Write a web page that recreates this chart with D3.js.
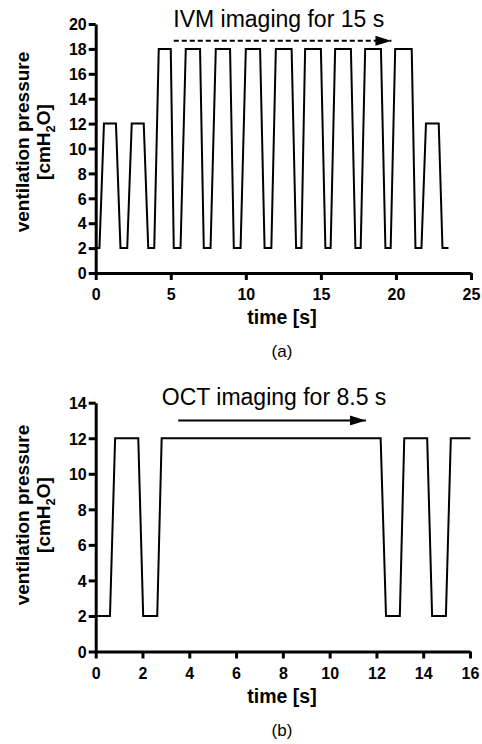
<!DOCTYPE html>
<html>
<head>
<meta charset="utf-8">
<script src="https://cdn.jsdelivr.net/npm/d3@7"></script>
<style>
  body { margin: 0; background: #fff; }
  svg { display: block; font-family: "Liberation Sans", Arial, sans-serif; }
</style>
</head>
<body>
<div id="chart"></div>
<script>
// Panel (a): IVM ventilation pattern
const timeA = [0.1, 0.25, 0.55, 1.35, 1.65, 2.1, 2.4, 3.2, 3.5, 3.9,
  4.2, 5.0, 5.2, 5.65, 6.0, 6.95, 7.2, 7.65, 8.0, 8.95, 9.2, 9.65,
  10.0, 10.95, 11.25, 11.7, 12.0, 13.05, 13.35, 13.7, 13.95, 15.0, 15.3, 15.65,
  15.95, 17.0, 17.3, 17.65, 17.95, 19.0, 19.3, 19.65, 19.95, 21.05, 21.3, 21.7,
  22.0, 22.85, 23.1, 23.5];
const pressureA = [2, 2, 12, 12, 2, 2, 12, 12, 2, 2,
  18, 18, 2, 2, 18, 18, 2, 2, 18, 18, 2, 2,
  18, 18, 2, 2, 18, 18, 2, 2, 18, 18, 2, 2,
  18, 18, 2, 2, 18, 18, 2, 2, 18, 18, 2, 2,
  12, 12, 2, 2];
const xTicksA = [0, 5, 10, 15, 20, 25];
const yTicksA = [0, 2, 4, 6, 8, 10, 12, 14, 16, 18, 20];
const arrowA = [5.2, 19.7, 18.65]; // start, end, level

// Panel (b): OCT ventilation pattern
const timeB = [0.07, 0.61, 0.83, 1.82, 2.03, 2.63, 2.82, 12.18, 12.41, 13.0,
  13.19, 14.17, 14.38, 14.97, 15.18, 16.02];
const pressureB = [2, 2, 12, 12, 2, 2, 12, 12, 2, 2, 12, 12, 2, 2, 12, 12];
const xTicksB = [0, 2, 4, 6, 8, 10, 12, 14, 16];
const yTicksB = [0, 2, 4, 6, 8, 10, 12, 14];
const arrowB = [3.53, 11.55, 13.0];

const svg = d3.select("#chart").append("svg")
  .attr("width", 482)
  .attr("height", 744);

svg.append("defs").append("marker")
  .attr("id", "head")
  .attr("viewBox", "0 0 16 10")
  .attr("refX", 16)
  .attr("refY", 5)
  .attr("markerWidth", 16)
  .attr("markerHeight", 10)
  .attr("markerUnits", "userSpaceOnUse")
  .attr("orient", "auto")
  .append("path")
  .attr("d", "M0,0L16,5L0,10Z")
  .attr("fill", "#000");

function drawPanel(p) {
  const x = d3.scaleLinear().domain(p.xDomain).range([95.7, p.xRight]);
  const y = d3.scaleLinear().domain(p.yDomain).range([p.yBottom, p.yTop]);
  const g = svg.append("g");

  // waveform
  g.append("path")
    .datum(p.time.map((t, i) => [t, p.pressure[i]]))
    .attr("fill", "none")
    .attr("stroke", "#000")
    .attr("stroke-width", 2)
    .attr("stroke-linejoin", "miter")
    .attr("d", d3.line().x(d => x(d[0])).y(d => y(d[1])));

  // axes
  const xAxis = g.append("g")
    .attr("transform", `translate(0,${p.yBottom})`)
    .call(d3.axisBottom(x).tickValues(p.xTicks).tickSize(7).tickSizeOuter(0).tickPadding(9));
  const yAxis = g.append("g")
    .attr("transform", "translate(95.7,0)")
    .call(d3.axisLeft(y).tickValues(p.yTicks).tickSize(7).tickSizeOuter(0).tickPadding(2));

  [xAxis, yAxis].forEach(a => {
    a.select(".domain").attr("stroke-width", 3);
    a.selectAll(".tick line").attr("stroke-width", 3);
    a.selectAll(".tick text")
      .attr("font-size", 16)
      .attr("font-weight", "bold")
      .attr("font-family", "Liberation Sans, Arial, sans-serif")
      .attr("fill", "#000");
  });
  yAxis.selectAll(".tick text").attr("dy", "0.36em");

  // imaging arrow
  g.append("line")
    .attr("x1", x(p.arrow[0]))
    .attr("x2", x(p.arrow[1]))
    .attr("y1", y(p.arrow[2]))
    .attr("y2", y(p.arrow[2]))
    .attr("stroke", "#000")
    .attr("stroke-width", 2)
    .attr("stroke-dasharray", p.dashed ? "5,3" : null)
    .attr("marker-end", "url(#head)");

  g.append("text")
    .attr("x", x(p.arrow[0]) + p.textShift)
    .attr("y", p.textY)
    .attr("font-size", 23)
    .text(p.title);

  // axis labels
  g.append("text")
    .attr("x", 282)
    .attr("y", p.yBottom + 51)
    .attr("text-anchor", "middle")
    .attr("font-size", 19.5)
    .attr("font-weight", "bold")
    .text("time [s]");

  const yl = g.append("g")
    .attr("transform", `translate(0,${p.labelY}) rotate(-90)`);
  yl.append("text")
    .attr("x", 0)
    .attr("y", 29)
    .attr("text-anchor", "middle")
    .attr("font-size", 19)
    .attr("font-weight", "bold")
    .text("ventilation pressure");
  const unit = yl.append("text")
    .attr("x", 0)
    .attr("y", 50)
    .attr("text-anchor", "middle")
    .attr("font-size", 19)
    .attr("font-weight", "bold");
  unit.append("tspan").text("[cmH");
  unit.append("tspan").attr("font-size", 13).attr("dy", 5).text("2");
  unit.append("tspan").attr("dy", -5).text("O]");

  g.append("text")
    .attr("x", 282)
    .attr("y", p.capY)
    .attr("text-anchor", "middle")
    .attr("font-size", 17)
    .text(p.caption);
}

drawPanel({
  time: timeA, pressure: pressureA, xTicks: xTicksA, yTicks: yTicksA,
  xDomain: [0, 25], yDomain: [0, 20], xRight: 471, yBottom: 273, yTop: 24,
  arrow: arrowA, dashed: true, title: "IVM imaging for 15 s", textY: 27, textShift: -0.5,
  labelY: 142, capY: 357, caption: "(a)"
});

drawPanel({
  time: timeB, pressure: pressureB, xTicks: xTicksB, yTicks: yTicksB,
  xDomain: [0, 16], yDomain: [0, 14], xRight: 470, yBottom: 651.5, yTop: 402.7,
  arrow: arrowB, dashed: false, title: "OCT imaging for 8.5 s", textY: 405, textShift: -16.5,
  labelY: 515, capY: 736, caption: "(b)"
});
</script>
</body>
</html>
